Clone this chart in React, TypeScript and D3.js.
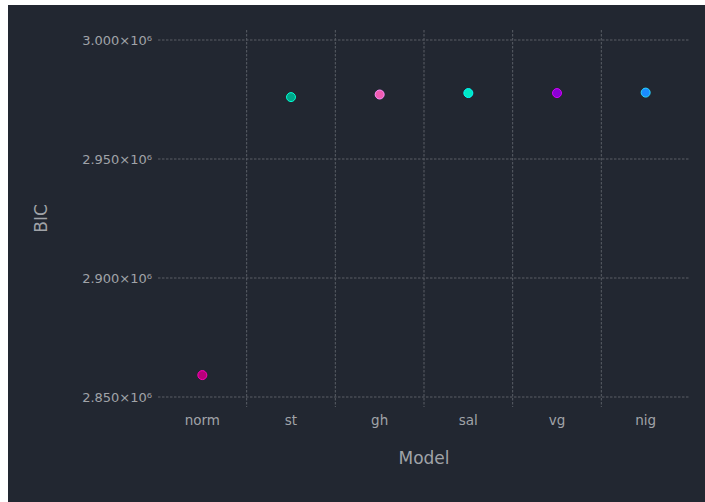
import React from 'react'
import * as d3 from 'd3'

const models = ['norm', 'st', 'gh', 'sal', 'vg', 'nig']
const bic = [2.8592e6, 2.9760e6, 2.9771e6, 2.9777e6, 2.9777e6, 2.9779e6]
const colors = ['#b8007a', '#00a88a', '#f05cb0', '#00e8c4', '#8a00d4', '#1a8cff']
const yTicks = [2.85e6, 2.9e6, 2.95e6, 3.0e6]

const W = 697
const H = 497
const plot = { left: 150, right: 682, top: 25, bottom: 402 }

const fmt = (v: number) => `${(v / 1e6).toFixed(3)}×10⁶`

const App: React.FC = () => {
  const x = d3.scaleBand().domain(models).range([plot.left, plot.right])
  const y = d3.scaleLinear().domain([2.85e6, 3.0e6]).range([392, 35])
  const gridColor = '#5a5e66'
  const textColor = '#a0a3a8'
  const font = '"DejaVu Sans", sans-serif'
  const boundaries = models.slice(1).map(m => x(m) as number)

  return (
    <div style={{ position: 'fixed', left: 8, top: 5, width: W, height: H, overflow: 'hidden' }}>
      <svg width={W} height={H} style={{ display: 'block', background: '#222731' }}>
        {yTicks.map(t => (
          <g key={t}>
            <line
              x1={plot.left}
              x2={plot.right}
              y1={y(t)}
              y2={y(t)}
              stroke={gridColor}
              strokeWidth={1}
              strokeDasharray="2.5,1.5"
            />
            <text
              x={plot.left - 6}
              y={y(t)}
              dy="0.35em"
              textAnchor="end"
              fill={textColor}
              fontFamily={font}
              fontSize={13}
            >
              {fmt(t)}
            </text>
          </g>
        ))}
        {boundaries.map(b => (
          <line
            key={b}
            x1={b}
            x2={b}
            y1={plot.top}
            y2={plot.bottom}
            stroke={gridColor}
            strokeWidth={1}
            strokeDasharray="2.5,1.5"
          />
        ))}
        {models.map(m => (
          <text
            key={m}
            x={(x(m) as number) + x.bandwidth() / 2}
            y={420}
            textAnchor="middle"
            fill={textColor}
            fontFamily={font}
            fontSize={13.5}
          >
            {m}
          </text>
        ))}
        {models.map((m, i) => (
          <circle
            key={m}
            cx={(x(m) as number) + x.bandwidth() / 2}
            cy={y(bic[i])}
            r={4.5}
            fill={colors[i]}
            stroke={d3.color(colors[i])!.brighter(1.2).formatHex()}
            strokeWidth={1}
          />
        ))}
        <text
          x={(plot.left + plot.right) / 2}
          y={459}
          textAnchor="middle"
          fill={textColor}
          fontFamily={font}
          fontSize={17}
        >
          Model
        </text>
        <text
          transform={`translate(39, ${(plot.top + plot.bottom) / 2}) rotate(-90)`}
          textAnchor="middle"
          fill={textColor}
          fontFamily={font}
          fontSize={17}
        >
          BIC
        </text>
      </svg>
    </div>
  )
}

export default App
